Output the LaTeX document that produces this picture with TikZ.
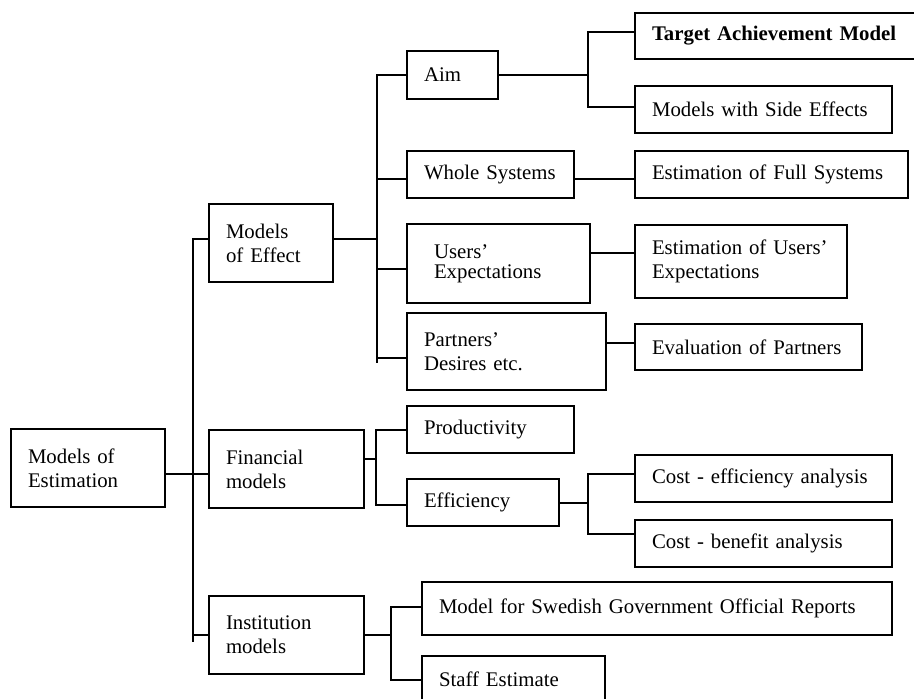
\documentclass[tikz,border=0pt]{standalone}
\usepackage{fontspec}
\setmainfont{Liberation Serif}
\begin{document}
\begin{tikzpicture}[x=0.5pt,y=-0.5pt,
  box/.style={draw, line width=1pt, anchor=north west, inner xsep=8.5pt,
    inner ysep=0pt, align=left, font=\fontsize{10.4}{12}\selectfont},
  link/.style={line width=1pt}]
\useasboundingbox (0,0) rectangle (914,698);
\clip (0,0) rectangle (914,698);

% root and first level
\node[box, text width=60pt, minimum height=39pt] (est) at (10,428) {Models of\\Estimation};
\node[box, text width=45pt, minimum height=39pt] (eff) at (208,203) {Models\\of Effect};
\node[box, text width=60.5pt, minimum height=39pt] (fin) at (208,429) {Financial\\models};
\node[box, text width=60.5pt, minimum height=39pt] (inst) at (208,595) {Institution\\models};

% second level
\node[box, text width=28.5pt, minimum height=24pt] (aim) at (406,50) {Aim};
\node[box, text width=66.5pt, minimum height=23.5pt] (whole) at (406,150) {Whole Systems};
\node[box, inner xsep=13.5pt, text width=64.5pt, minimum height=39.5pt] (users) at (406,223) {Users'\\[-2pt]Expectations};
\node[box, text width=82.5pt, minimum height=38.5pt] (partners) at (406,312) {Partners'\\Desires etc.};
\node[box, text width=66.5pt, minimum height=23.5pt] (prod) at (406,405) {Productivity};
\node[box, text width=59pt, minimum height=23.5pt] (effic) at (406,478) {Efficiency};
\node[box, text width=218pt, minimum height=26.5pt] (swed) at (421,581) {Model for Swedish Government Official Reports};
\node[box, text width=74.5pt, minimum height=23.5pt] (staff) at (421,655) {Staff Estimate};

% third level
\node[box, text width=131pt, minimum height=23pt] (target) at (634,12) {\bfseries Target Achievement Model};
\node[box, text width=111.5pt, minimum height=23.5pt] (side) at (634,85) {Models with Side Effects};
\node[box, text width=119.5pt, minimum height=23.5pt] (full) at (634,150) {Estimation of Full Systems};
\node[box, text width=89pt, minimum height=36.5pt] (estusers) at (634,224) {Estimation of Users'\\Expectations};
\node[box, text width=96.5pt, minimum height=23pt] (evalp) at (634,323) {Evaluation of Partners};
\node[box, text width=111.5pt, minimum height=23.5pt] (ceff) at (634,454) {Cost - efficiency analysis};
\node[box, text width=111.5pt, minimum height=23.5pt] (cben) at (634,519) {Cost - benefit analysis};

% vertical bus positions
\coordinate (b0) at (193,0);
\coordinate (b1) at (377,0);
\coordinate (b2) at (588,0);
\coordinate (b3) at (376,0);
\coordinate (b4) at (588,0);
\coordinate (b5) at (391,0);

% root bracket
\draw[link] ([yshift=-3pt]est.east) -- ([yshift=-3pt]est.east -| fin.west);
\draw[link] ([yshift=2pt]eff.west) -- ([yshift=2pt]eff.west -| b0) -- ([yshift=-3.5pt]inst.west -| b0);
\draw[link] (inst.west -| b0) -- (inst.west);

% models of effect bracket
\draw[link] ([yshift=2pt]eff.east) -- ([yshift=2pt]eff.east -| b1);
\draw[link] (aim.west) -- (aim.west -| b1) -- ([yshift=-5.75pt]partners.west -| b1);
\draw[link] ([yshift=-2.25pt]whole.west -| b1) -- ([yshift=-2.25pt]whole.west);
\draw[link] ([yshift=-2.75pt]users.west -| b1) -- ([yshift=-2.75pt]users.west);
\draw[link] ([yshift=-3.25pt]partners.west -| b1) -- ([yshift=-3.25pt]partners.west);

% aim bracket
\draw[link] (aim.east) -- (aim.east -| b2);
\draw[link] ([yshift=2pt]target.west) -- ([yshift=2pt]target.west -| b2)
  -- ([yshift=1.25pt]side.west -| b2) -- ([yshift=1.25pt]side.west);

% single links
\draw[link] ([yshift=-2.25pt]whole.east) -- ([yshift=-2.25pt]whole.east -| full.west);
\draw[link] ([yshift=5.25pt]users.east) -- ([yshift=5.25pt]users.east -| estusers.west);
\draw[link] ([yshift=4.25pt]partners.east) -- ([yshift=4.25pt]partners.east -| evalp.west);

% financial bracket
\draw[link] ([yshift=5pt]fin.east) -- ([yshift=5pt]fin.east -| b3);
\draw[link] (prod.west) -- (prod.west -| b3)
  -- ([yshift=-1.25pt]effic.west -| b3) -- ([yshift=-1.25pt]effic.west);

% efficiency bracket
\draw[link] (effic.east) -- (effic.east -| b4);
\draw[link] ([yshift=2.25pt]ceff.west) -- ([yshift=2.25pt]ceff.west -| b4)
  -- ([yshift=4.75pt]cben.west -| b4) -- ([yshift=4.75pt]cben.west);

% institution bracket
\draw[link] (inst.east) -- (inst.east -| b5);
\draw[link] ([yshift=0.75pt]swed.west) -- ([yshift=0.75pt]swed.west -| b5)
  -- (staff.west -| b5) -- (staff.west);
\end{tikzpicture}
\end{document}
